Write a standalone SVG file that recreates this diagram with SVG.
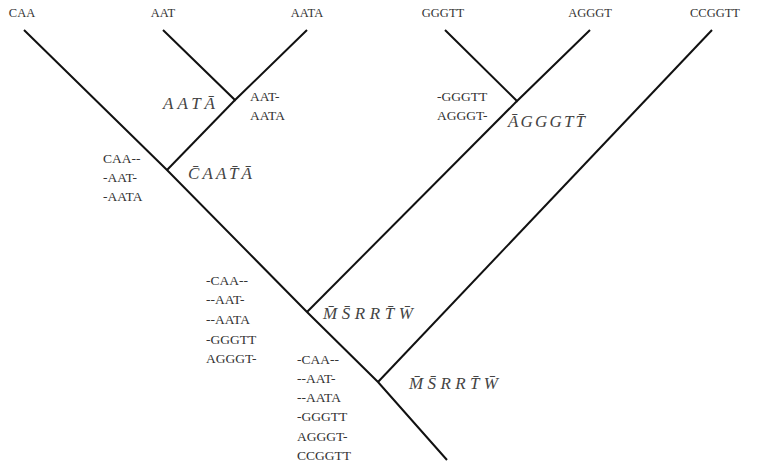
<svg xmlns="http://www.w3.org/2000/svg" width="761" height="466" viewBox="0 0 761 466">
  <style>
    .edge { stroke: #111; stroke-width: 2; fill: none; stroke-linecap: butt; }
    .leaf { font-family: "Liberation Serif", "DejaVu Serif", serif; font-size: 12.5px; fill: #333; text-anchor: middle; }
    .seq { font-family: "Liberation Serif", "DejaVu Serif", serif; font-size: 13.5px; fill: #333; }
    .anc { font-family: "Liberation Serif", "DejaVu Serif", serif; font-size: 17px; font-style: italic; fill: #444; }
  </style>
  <rect width="761" height="466" fill="#fff"/>

  <!-- tree edges -->
  <g id="edges">
    <path class="edge" d="M24,30 L167,170 L307,312 L378,382 L447,460"/>
    <path class="edge" d="M163,30 L235,100 L307,30"/>
    <path class="edge" d="M235,100 L167,170"/>
    <path class="edge" d="M445,30 L517,101 L590,30"/>
    <path class="edge" d="M517,101 L307,312"/>
    <path class="edge" d="M712,30 L378,382"/>
  </g>

  <!-- leaves -->
  <g id="leaf-CAA"><text class="leaf" x="22" y="17">CAA</text></g>
  <g id="leaf-AAT"><text class="leaf" x="163" y="17">AAT</text></g>
  <g id="leaf-AATA"><text class="leaf" x="307" y="17">AATA</text></g>
  <g id="leaf-GGGTT"><text class="leaf" x="443" y="17">GGGTT</text></g>
  <g id="leaf-AGGGT"><text class="leaf" x="590" y="17">AGGGT</text></g>
  <g id="leaf-CCGGTT"><text class="leaf" x="715" y="17">CCGGTT</text></g>

  <!-- internal node: AAT + AATA -->
  <g id="node-aat-aata">
    <text class="anc" x="163" y="109" textLength="52" lengthAdjust="spacing">AATĀ</text>
    <text class="seq" x="250" y="101">AAT-</text>
    <text class="seq" x="250" y="120">AATA</text>
  </g>

  <!-- internal node: CAA + (AAT, AATA) -->
  <g id="node-caa">
    <text class="seq" x="103" y="163">CAA--</text>
    <text class="seq" x="103" y="182">-AAT-</text>
    <text class="seq" x="103" y="201">-AATA</text>
    <text class="anc" x="188" y="179" textLength="64" lengthAdjust="spacing">C̄AAT̄Ā</text>
  </g>

  <!-- internal node: GGGTT + AGGGT -->
  <g id="node-gggtt">
    <text class="seq" x="437" y="101">-GGGTT</text>
    <text class="seq" x="437" y="120">AGGGT-</text>
    <text class="anc" x="508" y="127" textLength="77" lengthAdjust="spacing">ĀGGGTT̄</text>
  </g>

  <!-- internal node: five sequences -->
  <g id="node-five">
    <text class="seq" x="206" y="285">-CAA--</text>
    <text class="seq" x="206" y="304">--AAT-</text>
    <text class="seq" x="206" y="324">--AATA</text>
    <text class="seq" x="206" y="344">-GGGTT</text>
    <text class="seq" x="206" y="363">AGGGT-</text>
    <text class="anc" x="323" y="319" textLength="90" lengthAdjust="spacing">M̄S̄RRT̄W̄</text>
  </g>

  <!-- root: all six sequences -->
  <g id="node-root">
    <text class="seq" x="297" y="364">-CAA--</text>
    <text class="seq" x="297" y="383">--AAT-</text>
    <text class="seq" x="297" y="402">--AATA</text>
    <text class="seq" x="297" y="421">-GGGTT</text>
    <text class="seq" x="297" y="441">AGGGT-</text>
    <text class="seq" x="297" y="460">CCGGTT</text>
    <text class="anc" x="409" y="389" textLength="89" lengthAdjust="spacing">M̄S̄RRT̄W̄</text>
  </g>
</svg>
